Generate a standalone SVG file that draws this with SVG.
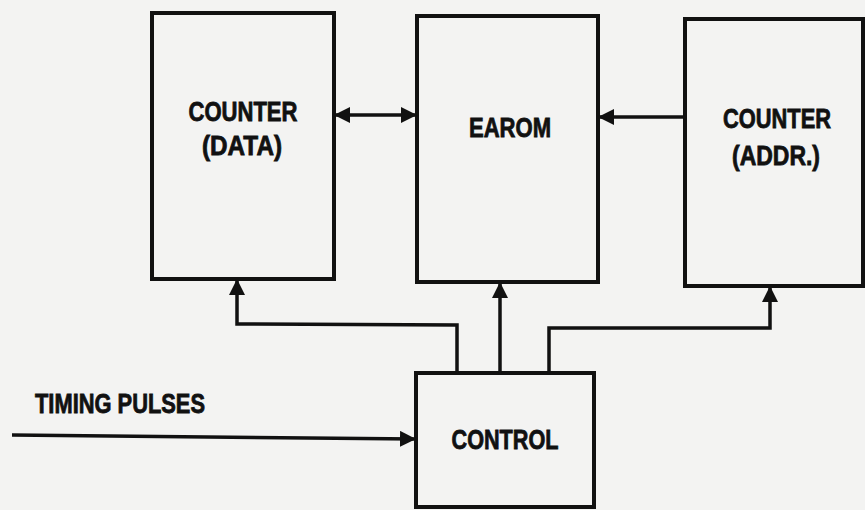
<svg xmlns="http://www.w3.org/2000/svg" width="865" height="510" viewBox="0 0 865 510">
  <defs>
    <style>
      .box { fill: none; stroke: #111; stroke-width: 4; }
      .conn { fill: none; stroke: #111; stroke-width: 3.5; stroke-linejoin: miter; }
      .lbl { font-family: "Liberation Sans", Arial, sans-serif; font-weight: bold; font-size: 27px; fill: #111; stroke: #111; stroke-width: 0.8; text-anchor: middle; }
      .lbl-l { font-family: "Liberation Sans", Arial, sans-serif; font-weight: bold; font-size: 27px; fill: #111; stroke: #111; stroke-width: 0.8; }
    </style>
    <marker id="ah" viewBox="0 0 16 16" refX="16" refY="8" markerWidth="16" markerHeight="16" markerUnits="userSpaceOnUse" orient="auto-start-reverse">
      <path d="M0,0 L16,8 L0,16 z" fill="#111"/>
    </marker>
  </defs>
  <rect x="0" y="0" width="865" height="510" fill="#f3f3f2"/>

  <g id="counter-data">
    <rect class="box" x="152" y="13" width="182" height="266"/>
    <text class="lbl" x="243" y="121" textLength="109" lengthAdjust="spacingAndGlyphs">COUNTER</text>
    <text class="lbl" x="242" y="155" textLength="80" lengthAdjust="spacingAndGlyphs">(DATA)</text>
  </g>

  <g id="earom">
    <rect class="box" x="417" y="16" width="181" height="266"/>
    <text class="lbl" x="510" y="137" textLength="82" lengthAdjust="spacingAndGlyphs">EAROM</text>
  </g>

  <g id="counter-addr">
    <rect class="box" x="685" y="19" width="178" height="267"/>
    <text class="lbl" x="777" y="128" textLength="108" lengthAdjust="spacingAndGlyphs">COUNTER</text>
    <text class="lbl" x="776" y="165" textLength="88" lengthAdjust="spacingAndGlyphs">(ADDR.)</text>
  </g>

  <g id="control">
    <rect class="box" x="416" y="373" width="178" height="134"/>
    <text class="lbl" x="505" y="449" textLength="107" lengthAdjust="spacingAndGlyphs">CONTROL</text>
  </g>

  <g id="timing-pulses">
    <text class="lbl-l" x="35" y="413" textLength="170" lengthAdjust="spacingAndGlyphs">TIMING PULSES</text>
  </g>

  <g id="connectors">
    <line class="conn" x1="334" y1="115" x2="417" y2="115" marker-start="url(#ah)" marker-end="url(#ah)"/>
    <line class="conn" x1="685" y1="117" x2="598" y2="117" marker-end="url(#ah)"/>
    <polyline class="conn" points="457,373 457,325 237,324 237,279" marker-end="url(#ah)"/>
    <line class="conn" x1="500" y1="373" x2="500" y2="282" marker-end="url(#ah)"/>
    <polyline class="conn" points="549,373 549,328 770,328 770,286" marker-end="url(#ah)"/>
    <line class="conn" x1="12" y1="435" x2="416" y2="439" marker-end="url(#ah)"/>
  </g>
</svg>
